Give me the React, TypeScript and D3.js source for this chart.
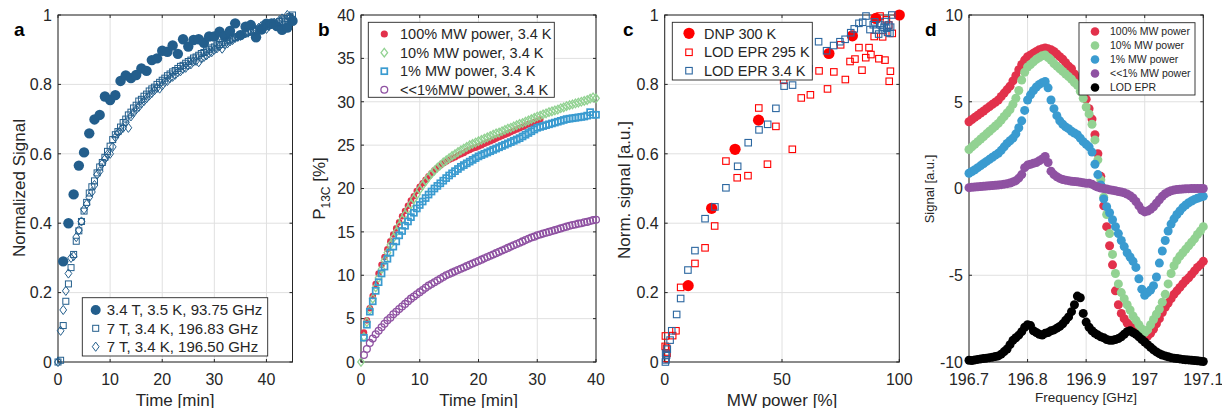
import React from 'react';
import * as d3 from 'd3';

const FONT = '"Liberation Sans", Arial, Helvetica, sans-serif';
const INK = '#262626';
const GRID = '#e0e0e0';

type Pt = [number, number];
const seq = (t0: number, step: number, vals: number[]): Pt[] => vals.map((v, i) => [t0 + i * step, v]);

// ---------------- Panel a ----------------
const A_FILLED_T0 = 1;
const A_FILLED_STEP = 1;
const A_FILLED = [0.29, 0.40, 0.483, 0.566, 0.604, 0.659, 0.699, 0.712, 0.765, 0.755,
  0.769, 0.81, 0.826, 0.818, 0.827, 0.846, 0.839, 0.870, 0.875, 0.897,
  0.894, 0.912, 0.888, 0.930, 0.909, 0.928, 0.930, 0.920, 0.938, 0.938,
  0.952, 0.939, 0.954, 0.976, 0.942, 0.966, 0.971, 0.936, 0.958, 0.975,
  0.976, 0.968, 0.957, 0.964, 0.983];
const A_OPEN_T0 = 0;
const A_OPEN_STEP = 0.5;
const A_SQUARES = [0.000, 0.005, 0.105, 0.175, 0.225, 0.272, 0.31, 0.348, 0.378, 0.405,
  0.435, 0.46, 0.487, 0.505, 0.522, 0.545, 0.562, 0.575, 0.59, 0.607,
  0.622, 0.641, 0.655, 0.664, 0.677, 0.69, 0.70, 0.712, 0.72, 0.732,
  0.74, 0.752, 0.757, 0.766, 0.772, 0.781, 0.787, 0.792, 0.80, 0.806,
  0.812, 0.818, 0.825, 0.83, 0.836, 0.84, 0.846, 0.852, 0.855, 0.861,
  0.866, 0.87, 0.876, 0.879, 0.884, 0.889, 0.892, 0.896, 0.90, 0.905,
  0.908, 0.913, 0.915, 0.92, 0.922, 0.926, 0.929, 0.933, 0.935, 0.938,
  0.941, 0.945, 0.946, 0.95, 0.952, 0.955, 0.957, 0.96, 0.962, 0.965,
  0.967, 0.97, 0.972, 0.976, 0.977, 0.981, 0.983, 0.988, 0.99, 0.996,
  1.0];
const A_DIAMONDS = [0.0, 0.09, 0.15, 0.205, 0.255, 0.30, 0.305, 0.36, 0.38, 0.405,
  0.44, 0.455, 0.475, 0.49, 0.51, 0.54, 0.55, 0.572, 0.585, 0.598,
  0.60, 0.62, 0.648, 0.66, 0.668, 0.675, 0.69, 0.675, 0.708, 0.718,
  0.728, 0.735, 0.745, 0.752, 0.76, 0.768, 0.775, 0.783, 0.79, 0.788,
  0.797, 0.807, 0.81, 0.818, 0.822, 0.828, 0.835, 0.838, 0.845, 0.848,
  0.855, 0.858, 0.866, 0.868, 0.864, 0.875, 0.879, 0.884, 0.89, 0.893,
  0.90, 0.904, 0.91, 0.903, 0.915, 0.918, 0.924, 0.928, 0.934, 0.937,
  0.94, 0.944, 0.948, 0.95, 0.955, 0.958, 0.955, 0.963, 0.968, 0.972,
  0.96, 0.968, 0.974, 0.978, 0.97, 0.985, 0.99, 0.98, 1.0, 0.993,
  0.99];
const A_LEGEND = ['3.4 T, 3.5 K, 93.75 GHz', '7 T, 3.4 K, 196.83 GHz', '7 T, 3.4 K, 196.50 GHz'];
const A_X_TICKS = [0, 10, 20, 30, 40];
const A_Y_TICKS = [0, 0.2, 0.4, 0.6, 0.8, 1];

// ---------------- Panel b ----------------
const B_STEP = 0.5;
const B_RED_T0 = 0.5;
const B_RED = [3.4, 4.8, 6.2, 7.6, 9.0, 10.2, 11.2, 12.1, 13.0, 13.9,
  14.7, 15.4, 16.1, 16.8, 17.4, 18.0, 18.6, 19.1, 19.7, 20.2,
  20.6, 21.0, 21.4, 21.75, 22.1, 22.4, 22.65, 22.9, 23.1, 23.3,
  23.45, 23.6, 23.8, 23.95, 24.1, 24.3, 24.45, 24.6, 24.7, 24.85,
  25.0, 25.15, 25.3, 25.45, 25.6, 25.75, 25.9, 26.05, 26.2, 26.35,
  26.5, 26.65, 26.8, 26.95, 27.1, 27.25, 27.4, 27.5, 27.65, 27.8,
  27.95];
const B_GREEN_T0 = 0;
const B_GREEN = [0, 2.9, 4.6, 6.0, 7.3, 8.6, 9.7, 10.7, 11.7, 12.6,
  13.5, 14.3, 15.0, 15.7, 16.4, 17.0, 17.6, 18.2, 18.8, 19.3,
  19.9, 20.4, 20.85, 21.3, 21.7, 22.05, 22.4, 22.7, 23.0, 23.25,
  23.5, 23.75, 23.95, 24.2, 24.4, 24.6, 24.8, 25.0, 25.15, 25.3,
  25.45, 25.6, 25.75, 25.9, 26.05, 26.2, 26.35, 26.45, 26.6, 26.75,
  26.9, 27.0, 27.15, 27.3, 27.45, 27.55, 27.7, 27.85, 28.0, 28.15,
  28.3, 28.4, 28.55, 28.65, 28.8, 28.9, 29.0, 29.1, 29.25, 29.35,
  29.5, 29.6, 29.7, 29.8, 29.9, 30.0, 30.1, 30.2, 30.35, 30.5,
  30.4];
const B_BLUE_T0 = 0.5;
const B_BLUE = [2.8, 4.3, 5.8, 7.0, 8.2, 9.2, 10.2, 11.0, 11.9, 12.6,
  13.3, 13.9, 14.6, 15.1, 15.7, 16.2, 16.7, 17.2, 17.7, 18.1,
  18.5, 18.9, 19.3, 19.65, 20.0, 20.3, 20.6, 20.9, 21.2, 21.5,
  21.75, 22.0, 22.25, 22.5, 22.7, 22.9, 23.1, 23.3, 23.5, 23.7,
  23.85, 24.0, 24.15, 24.3, 24.45, 24.6, 24.75, 24.9, 25.05, 25.2,
  25.35, 25.5, 25.65, 25.8, 26.0, 26.2, 26.4, 26.6, 26.8, 27.0,
  27.1, 27.2, 27.3, 27.4, 27.5, 27.6, 27.7, 27.8, 27.9, 28.0,
  28.05, 28.1, 28.15, 28.2, 28.25, 28.3, 28.4, 28.8, 28.5, 28.5];
const B_PURPLE_T0 = 0.5;
const B_PURPLE = [0.8, 1.5, 2.2, 2.7, 3.2, 3.6, 4.0, 4.4, 4.8, 5.1,
  5.5, 5.8, 6.1, 6.4, 6.7, 7.0, 7.3, 7.55, 7.8, 8.05,
  8.3, 8.55, 8.8, 9.0, 9.2, 9.4, 9.6, 9.8, 10.0, 10.15,
  10.3, 10.45, 10.6, 10.75, 10.9, 11.05, 11.2, 11.35, 11.5, 11.65,
  11.8, 11.95, 12.1, 12.25, 12.4, 12.55, 12.7, 12.85, 13.0, 13.15,
  13.3, 13.45, 13.6, 13.75, 13.9, 14.05, 14.2, 14.35, 14.45, 14.6,
  14.7, 14.8, 14.9, 15.0, 15.1, 15.2, 15.3, 15.4, 15.5, 15.6,
  15.7, 15.8, 15.85, 15.95, 16.0, 16.1, 16.15, 16.25, 16.35, 16.4];
const B_LEGEND = ['100% MW power, 3.4 K', '10% MW power, 3.4 K', '1% MW power, 3.4 K', '<<1%MW power, 3.4 K'];
const B_X_TICKS = [0, 10, 20, 30, 40];
const B_Y_TICKS = [0, 5, 10, 15, 20, 25, 30, 35, 40];

// ---------------- Panel c ----------------
const C_DNP_P = [10, 20, 30, 40, 70, 80, 90, 100];
const C_DNP_V = [0.22, 0.443, 0.613, 0.697, 0.889, 0.94, 0.99, 1.0];
const C_LOD295: Pt[] = [[0.2, 0.045], [0.3, 0.075], [0.5, 0.01], [0.8, 0.04], [1.0, 0.025], [3.4, 0.076],
  [4.8, 0.09], [6.8, 0.215], [12.9, 0.284], [17.2, 0.329], [21.3, 0.392], [26.1, 0.579], [30.9, 0.531],
  [35.5, 0.537], [40.1, 0.732], [43.8, 0.57], [47.4, 0.679], [50.7, 0.812], [54.4, 0.613], [58.2, 0.761],
  [62.1, 0.77], [65.8, 0.839], [69.4, 0.787], [72.1, 0.836], [75, 0.914], [77, 0.814], [79, 0.866],
  [81.1, 0.873], [82.8, 0.906], [84.1, 0.841], [85.7, 0.877], [87.1, 0.906], [87.9, 0.886], [89.3, 0.938],
  [91.3, 0.874], [91.8, 0.997], [92.9, 0.937], [93.9, 0.87], [94.5, 0.986], [95.5, 0.971], [95.7, 0.809],
  [96.2, 0.838], [97, 0.947]];
const C_LOD34: Pt[] = [[0.3, 0.0], [0.55, 0.006], [0.8, 0.02], [1.1, 0.037], [0.4, 0.025], [2.3, 0.063],
  [3.0, 0.09], [5.1, 0.137], [6.8, 0.183], [9.9, 0.265], [12.9, 0.321], [17.2, 0.413], [21.4, 0.447],
  [26.1, 0.502], [31.1, 0.564], [35.6, 0.632], [40.2, 0.669], [43.9, 0.685], [47.4, 0.731], [50.9, 0.795],
  [54.5, 0.798], [61.5, 0.845], [65.6, 0.923], [69, 0.897], [72, 0.912], [74.7, 0.923], [76.9, 0.930],
  [79.3, 0.949], [80.8, 0.96], [82.8, 0.976], [84.4, 0.979], [85.8, 0.997], [87.5, 0.958], [88.9, 0.972],
  [89.5, 0.98], [90.1, 0.957], [91.2, 0.945], [92.2, 0.971], [92.8, 0.957], [93.5, 0.965], [93.9, 0.981],
  [94.6, 0.962], [95.0, 0.95], [95.5, 0.971], [96.0, 0.947], [96.3, 0.965], [96.8, 1.0]];
const C_LEGEND = ['DNP 300 K', 'LOD EPR 295 K', 'LOD EPR 3.4 K'];
const C_X_TICKS = [0, 50, 100];
const C_Y_TICKS = [0, 0.2, 0.4, 0.6, 0.8, 1];

// ---------------- Panel d ----------------
const D_F0 = 196.7;
const D_STEP = 0.005;
const D_RED = [3.85, 3.98, 4.1, 4.22, 4.35, 4.47, 4.6, 4.72, 4.85, 4.97,
  5.1, 5.3, 5.5, 5.7, 5.9, 6.2, 6.5, 6.85, 7.15, 7.4,
  7.6, 7.7, 7.8, 7.9, 8.0, 8.05, 8.1, 8.05, 8.0, 7.9,
  7.75, 7.6, 7.45, 7.25, 7.05, 6.9, 6.6, 6.35, 6.0, 5.6,
  5.15, 4.6, 4.0, 3.1, 2.0, 0.7, -1.0, -2.2, -3.3, -4.4,
  -5.9, -6.7, -7.2, -7.5, -7.75, -7.9, -8.05, -8.2, -8.35, -8.5,
  -8.65, -8.5, -8.35, -8.1, -7.8, -7.5, -7.15, -6.85, -6.6, -6.35,
  -6.1, -5.9, -5.7, -5.5, -5.3, -5.15, -4.95, -4.75, -4.55, -4.4,
  -4.2];
const D_GREEN = [2.25, 2.4, 2.55, 2.7, 2.85, 3.0, 3.15, 3.3, 3.45, 3.6,
  3.75, 3.95, 4.15, 4.35, 4.55, 4.85, 5.2, 5.65, 6.25, 6.7,
  7.0, 7.15, 7.3, 7.45, 7.55, 7.65, 7.7, 7.55, 7.4, 7.2,
  7.05, 6.9, 6.75, 6.6, 6.45, 6.3, 6.1, 5.95, 5.6, 5.2,
  4.7, 4.3, 3.7, 2.8, 1.65, 0.5, -0.5, -1.5, -2.6, -3.8,
  -4.9, -5.5, -6.0, -6.35, -6.7, -7.0, -7.35, -7.6, -7.85, -8.1,
  -8.3, -8.15, -7.85, -7.55, -7.25, -6.95, -6.55, -6.1, -5.5, -4.9,
  -4.45, -4.15, -3.9, -3.7, -3.5, -3.3, -3.1, -2.9, -2.65, -2.45,
  -2.2];
const D_BLUE = [0.88, 0.98, 1.08, 1.2, 1.32, 1.44, 1.56, 1.68, 1.8, 1.92,
  2.03, 2.2, 2.4, 2.6, 2.75, 2.9, 3.15, 3.5, 3.9, 4.5,
  5.1, 5.4, 5.65, 5.85, 6.0, 6.1, 6.17, 5.8, 5.1, 4.6,
  4.2, 3.9, 3.7, 3.55, 3.45, 3.3, 3.2, 3.1, 2.9, 2.7,
  2.55, 2.4, 2.1, 1.4, 0.8, 0.2, -0.6, -1.05, -1.4, -1.8,
  -2.2, -2.6, -3.0, -3.35, -3.7, -3.95, -4.2, -4.55, -5.2, -5.8,
  -6.15, -6.0, -5.85, -5.6, -5.1, -4.3, -3.6, -3.0, -2.45, -2.05,
  -1.75, -1.5, -1.3, -1.1, -0.95, -0.82, -0.72, -0.63, -0.56, -0.5,
  -0.45];
const D_PURPLE = [0.05, 0.07, 0.08, 0.1, 0.11, 0.13, 0.14, 0.16, 0.17, 0.19,
  0.2, 0.22, 0.25, 0.28, 0.32, 0.38, 0.45, 0.6, 0.8, 1.2,
  1.35, 1.4, 1.45, 1.5, 1.6, 1.7, 1.85, 1.5, 1.0, 0.8,
  0.68, 0.58, 0.52, 0.48, 0.45, 0.42, 0.4, 0.39, 0.36, 0.33,
  0.3, 0.3, 0.25, 0.15, 0.08, 0.03, 0.0, -0.03, -0.07, -0.1,
  -0.13, -0.17, -0.2, -0.25, -0.32, -0.42, -0.55, -0.75, -1.0, -1.25,
  -1.35, -1.3, -1.2, -1.05, -0.85, -0.65, -0.45, -0.3, -0.2, -0.13,
  -0.09, -0.06, -0.04, -0.03, -0.02, -0.01, 0.0, 0.0, 0.0, 0.0,
  0.0];
const D_BLACK = [-9.9, -9.92, -9.88, -9.85, -9.82, -9.8, -9.78, -9.75, -9.72, -9.68,
  -9.65, -9.55, -9.4, -9.25, -9.0, -8.75, -8.6, -8.45, -8.25, -8.0,
  -7.85, -7.9, -8.2, -8.3, -8.4, -8.45, -8.35, -8.3, -8.2, -8.15,
  -8.05, -7.95, -7.8, -7.6, -7.4, -7.1, -6.7, -6.2, -6.3, -7.2,
  -7.7, -8.0, -8.2, -8.35, -8.45, -8.55, -8.6, -8.7, -8.75, -8.75,
  -8.7, -8.65, -8.55, -8.4, -8.25, -8.2, -8.3, -8.4, -8.55, -8.7,
  -8.85, -9.0, -9.15, -9.3, -9.42, -9.52, -9.6, -9.65, -9.7, -9.75,
  -9.78, -9.8, -9.82, -9.85, -9.87, -9.88, -9.9, -9.92, -9.93, -9.95,
  -9.97];
const D_LEGEND = ['100% MW power', '10% MW power', '1% MW power', '<<1% MW power', 'LOD EPR'];
const D_X_TICKS = [196.7, 196.8, 196.9, 197, 197.1];
const D_Y_TICKS = [-10, -5, 0, 5, 10];

// ---------------- colours ----------------
const C_A = '#235e8c';
const RED = '#e2314b';
const GREEN = '#92d292';
const BLUE = '#3a9bd0';
const PURPLE = '#8f52a2';
const C_RED = '#ff0000';
const C_BLUE = '#2c67a0';

type Scale = d3.ScaleLinear<number, number>;

const TOP = 15;
const BOTTOM = 362;

interface PanelProps {
  left: number;
  right: number;
  xDomain: [number, number];
  yDomain: [number, number];
  xTicks: number[];
  yTicks: number[];
  yTickX?: number;
  render: (x: Scale, y: Scale) => React.ReactNode;
}

function Panel({ left, right, xDomain, yDomain, xTicks, yTicks, render }: PanelProps) {
  const x = d3.scaleLinear().domain(xDomain).range([left, right]);
  const y = d3.scaleLinear().domain(yDomain).range([BOTTOM, TOP]);
  const tl = 3;
  return (
    <g>
      <rect x={left} y={TOP} width={right - left} height={BOTTOM - TOP} fill="#fff" />
      {xTicks.map((t) => (
        <line key={'gx' + t} x1={x(t)} x2={x(t)} y1={TOP} y2={BOTTOM} stroke={GRID} strokeWidth={1} />
      ))}
      {yTicks.map((t) => (
        <line key={'gy' + t} x1={left} x2={right} y1={y(t)} y2={y(t)} stroke={GRID} strokeWidth={1} />
      ))}
      <rect x={left} y={TOP} width={right - left} height={BOTTOM - TOP} fill="none" stroke={INK} strokeWidth={1} />
      {xTicks.map((t) => (
        <g key={'tx' + t}>
          <line x1={x(t)} x2={x(t)} y1={BOTTOM} y2={BOTTOM - tl} stroke={INK} />
          <line x1={x(t)} x2={x(t)} y1={TOP} y2={TOP + tl} stroke={INK} />
          <text x={x(t)} y={385} textAnchor="middle" fontSize={16} fill={INK}>{String(t)}</text>
        </g>
      ))}
      {yTicks.map((t) => (
        <g key={'ty' + t}>
          <line x1={left} x2={left + tl} y1={y(t)} y2={y(t)} stroke={INK} />
          <line x1={right} x2={right - tl} y1={y(t)} y2={y(t)} stroke={INK} />
          <text x={left - 6} y={y(t)} dy="0.36em" textAnchor="end" fontSize={16} fill={INK}>{String(t)}</text>
        </g>
      ))}
      {render(x, y)}
    </g>
  );
}

const Square = ({ cx, cy, s, stroke, sw }: { cx: number; cy: number; s: number; stroke: string; sw: number }) => (
  <rect x={cx - s / 2} y={cy - s / 2} width={s} height={s} fill="none" stroke={stroke} strokeWidth={sw} />
);
const Diamond = ({ cx, cy, w, h, stroke, sw }: { cx: number; cy: number; w: number; h: number; stroke: string; sw: number }) => (
  <path d={`M${cx},${cy - h}L${cx + w},${cy}L${cx},${cy + h}L${cx - w},${cy}Z`} fill="none" stroke={stroke} strokeWidth={sw} />
);

function LegendBox({ x, y, w, h }: { x: number; y: number; w: number; h: number }) {
  return <rect x={x} y={y} width={w} height={h} fill="#fff" stroke={INK} strokeWidth={0.9} />;
}

export default function App() {
  const aFilled = seq(A_FILLED_T0, A_FILLED_STEP, A_FILLED);
  const aSq = seq(A_OPEN_T0, A_OPEN_STEP, A_SQUARES);
  const aDi = seq(A_OPEN_T0, A_OPEN_STEP, A_DIAMONDS);

  const bRed = seq(B_RED_T0, B_STEP, B_RED);
  const bGreen = seq(B_GREEN_T0, B_STEP, B_GREEN);
  const bBlue = seq(B_BLUE_T0, B_STEP, B_BLUE);
  const bPurple = seq(B_PURPLE_T0, B_STEP, B_PURPLE);

  const cDnp: Pt[] = C_DNP_P.map((p, i) => [p, C_DNP_V[i]]);

  const dSeries: { pts: Pt[]; color: string }[] = [
    { pts: seq(D_F0, D_STEP, D_RED), color: RED },
    { pts: seq(D_F0, D_STEP, D_GREEN), color: GREEN },
    { pts: seq(D_F0, D_STEP, D_BLUE), color: BLUE },
    { pts: seq(D_F0, D_STEP, D_PURPLE), color: PURPLE },
    { pts: seq(D_F0, D_STEP, D_BLACK), color: '#000' },
  ];

  return (
    <svg width={1222} height={408} style={{ position: 'absolute', left: 0, top: 0, background: '#fff', fontFamily: FONT }}>
      <rect x={0} y={0} width={1222} height={408} fill="#fff" />

      {/* ---------- a ---------- */}
      <Panel
        left={58}
        right={292.5}
        xDomain={[0, 45]}
        yDomain={[0, 1]}
        xTicks={A_X_TICKS}
        yTicks={A_Y_TICKS}
        render={(x, y) => (
          <g>
            {aFilled.map(([t, v], i) => (
              <circle key={'af' + i} cx={x(t)} cy={y(v)} r={5.2} fill={C_A} />
            ))}
            {aSq.map(([t, v], i) => (
              <Square key={'as' + i} cx={x(t)} cy={y(v)} s={6} stroke={C_A} sw={1} />
            ))}
            {aDi.map(([t, v], i) => (
              <Diamond key={'ad' + i} cx={x(t)} cy={y(v)} w={3.4} h={4.6} stroke={C_A} sw={1} />
            ))}
            <LegendBox x={82.3} y={297.7} w={185.4} h={58.3} />
            <circle cx={95.7} cy={310} r={5} fill={C_A} />
            <Square cx={95.7} cy={328.3} s={6} stroke={C_A} sw={1} />
            <Diamond cx={95.7} cy={346.7} w={3.4} h={4.6} stroke={C_A} sw={1} />
            {A_LEGEND.map((s, i) => (
              <text key={'al' + i} x={106.7} y={310 + i * 18.35} dy="0.36em" fontSize={15} fill={INK}>{s}</text>
            ))}
          </g>
        )}
      />
      <text transform="translate(25,188) rotate(-90)" textAnchor="middle" fontSize={17} fill={INK}>Normalized Signal</text>
      <text x={175} y={405.5} textAnchor="middle" fontSize={17} fill={INK}>Time [min]</text>
      <text x={14} y={36} fontSize={19} fontWeight="bold" fill="#000">a</text>

      {/* ---------- b ---------- */}
      <Panel
        left={361}
        right={596}
        xDomain={[0, 40]}
        yDomain={[0, 40]}
        xTicks={B_X_TICKS}
        yTicks={B_Y_TICKS}
        render={(x, y) => (
          <g>
            {bRed.map(([t, v], i) => (
              <circle key={'br' + i} cx={x(t)} cy={y(v)} r={3.3} fill={RED} />
            ))}
            {bGreen.map(([t, v], i) => (
              <Diamond key={'bg' + i} cx={x(t)} cy={y(v)} w={3.3} h={4.3} stroke={GREEN} sw={1.3} />
            ))}
            {bBlue.map(([t, v], i) => (
              <Square key={'bb' + i} cx={x(t)} cy={y(v)} s={6} stroke={BLUE} sw={1.7} />
            ))}
            {bPurple.map(([t, v], i) => (
              <circle key={'bp' + i} cx={x(t)} cy={y(v)} r={3.4} fill="none" stroke={PURPLE} strokeWidth={1.3} />
            ))}
            <LegendBox x={368.3} y={22.3} w={186} h={75} />
            <circle cx={384.3} cy={34} r={3.6} fill={RED} />
            <Diamond cx={384.3} cy={52.7} w={3.3} h={4.3} stroke={GREEN} sw={1.3} />
            <Square cx={384.3} cy={71.2} s={6} stroke={BLUE} sw={1.7} />
            <circle cx={384.3} cy={89.8} r={3.4} fill="none" stroke={PURPLE} strokeWidth={1.3} />
            {B_LEGEND.map((s, i) => (
              <text key={'bl' + i} x={400} y={34 + i * 18.6} dy="0.36em" fontSize={14.5} fill={INK}>{s}</text>
            ))}
          </g>
        )}
      />
      <text transform="translate(325,188.5) rotate(-90)" textAnchor="middle" fontSize={17} fill={INK}>
        P<tspan fontSize={12} dy={4.5}>13C</tspan><tspan dy={-4.5}> [%]</tspan>
      </text>
      <text x={478.5} y={405.5} textAnchor="middle" fontSize={17} fill={INK}>Time [min]</text>
      <text x={318} y={36} fontSize={19} fontWeight="bold" fill="#000">b</text>

      {/* ---------- c ---------- */}
      <Panel
        left={664.7}
        right={899.3}
        xDomain={[0, 100]}
        yDomain={[0, 1]}
        xTicks={C_X_TICKS}
        yTicks={C_Y_TICKS}
        render={(x, y) => (
          <g>
            {cDnp.map(([p, v], i) => (
              <circle key={'cd' + i} cx={x(p)} cy={y(v)} r={5.6} fill={C_RED} />
            ))}
            {C_LOD295.map(([p, v], i) => (
              <Square key={'cr' + i} cx={x(p)} cy={y(v)} s={6.5} stroke={C_RED} sw={1.1} />
            ))}
            {C_LOD34.map(([p, v], i) => (
              <Square key={'cb' + i} cx={x(p)} cy={y(v)} s={6.5} stroke={C_BLUE} sw={1.1} />
            ))}
            <LegendBox x={672.3} y={22.3} w={140} h={57.7} />
            <circle cx={689} cy={33.3} r={5.6} fill={C_RED} />
            <Square cx={689} cy={52.3} s={6.5} stroke={C_RED} sw={1.1} />
            <Square cx={689} cy={70.7} s={6.5} stroke={C_BLUE} sw={1.1} />
            {C_LEGEND.map((s, i) => (
              <text key={'cl' + i} x={704} y={33.3 + i * 18.7} dy="0.36em" fontSize={14.5} fill={INK}>{s}</text>
            ))}
          </g>
        )}
      />
      <text transform="translate(630,190) rotate(-90)" textAnchor="middle" fontSize={17} fill={INK}>Norm. signal [a.u.]</text>
      <text x={782} y={405.5} textAnchor="middle" fontSize={17} fill={INK}>MW power [%]</text>
      <text x={623} y={36} fontSize={19} fontWeight="bold" fill="#000">c</text>

      {/* ---------- d ---------- */}
      <Panel
        left={969}
        right={1203.3}
        xDomain={[196.7, 197.1]}
        yDomain={[-10, 10]}
        xTicks={D_X_TICKS}
        yTicks={D_Y_TICKS}
        render={(x, y) => (
          <g>
            {dSeries.map((s, k) => (
              <g key={'ds' + k}>
                {s.pts.map(([f, v], i) => (
                  <circle key={i} cx={x(f)} cy={y(v)} r={4.5} fill={s.color} />
                ))}
              </g>
            ))}
            <LegendBox x={1079} y={22.7} w={116} h={72.3} />
            {dSeries.map((s, k) => (
              <circle key={'dlm' + k} cx={1095} cy={31.5 + k * 14} r={4.3} fill={s.color} />
            ))}
            {D_LEGEND.map((s, i) => (
              <text key={'dl' + i} x={1110} y={31.5 + i * 14} dy="0.36em" fontSize={10.5} fill={INK}>{s}</text>
            ))}
          </g>
        )}
      />
      <text transform="translate(933.5,189) rotate(-90)" textAnchor="middle" fontSize={13} fill={INK}>Signal [a.u.]</text>
      <text x={1086} y={402} textAnchor="middle" fontSize={13.5} fill={INK}>Frequency [GHz]</text>
      <text x={925} y={36} fontSize={19} fontWeight="bold" fill="#000">d</text>
    </svg>
  );
}
